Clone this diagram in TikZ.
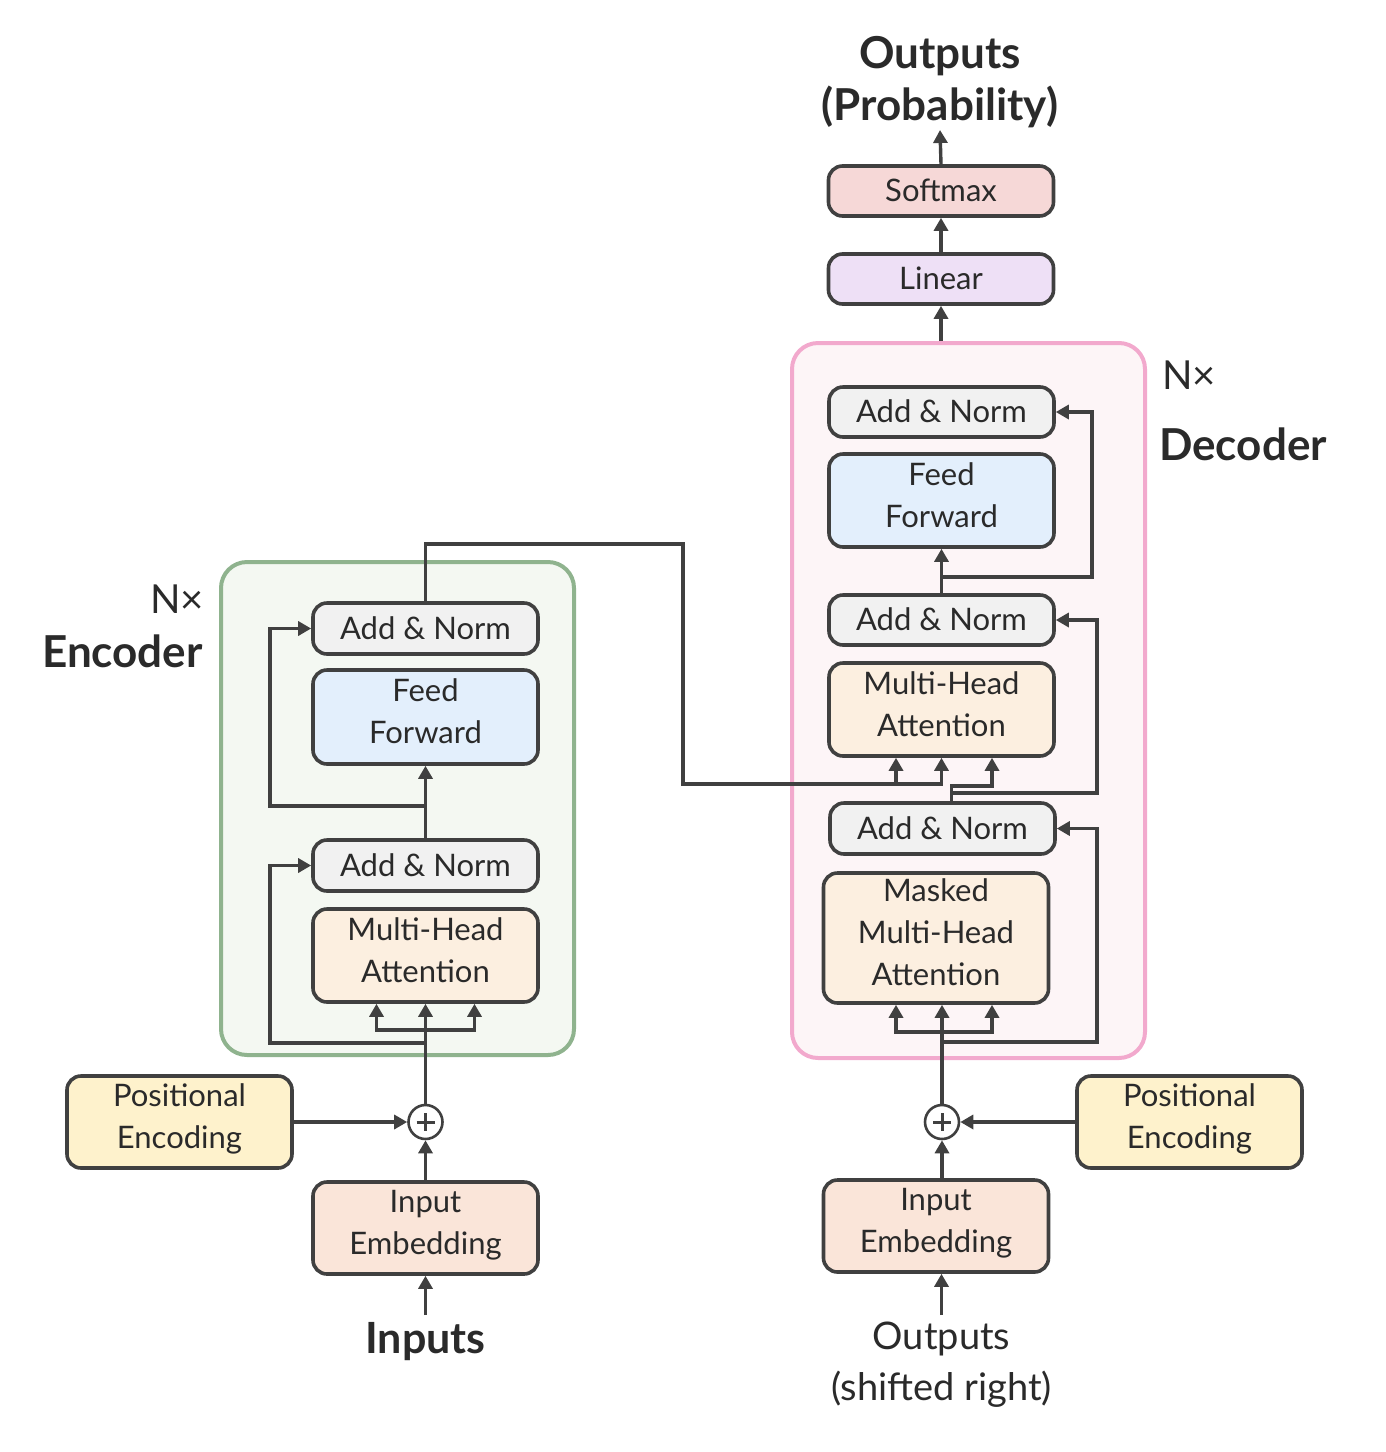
\documentclass[tikz,border=0pt]{standalone}
\usepackage{fontspec}
\setmainfont{Lato}
\usetikzlibrary{arrows.meta}

\definecolor{ink}{HTML}{404040}
\definecolor{txt}{HTML}{2A2A2A}
\definecolor{normfill}{HTML}{F1F1F1}
\definecolor{fffill}{HTML}{E3EFFC}
\definecolor{attfill}{HTML}{FCEFE0}
\definecolor{embfill}{HTML}{FAE5D9}
\definecolor{posfill}{HTML}{FEF2CC}
\definecolor{linfill}{HTML}{EEE0F6}
\definecolor{softfill}{HTML}{F6D8D7}
\definecolor{encline}{HTML}{8FB38E}
\definecolor{encfill}{HTML}{F4F8F2}
\definecolor{decline}{HTML}{F2A9CD}
\definecolor{decfill}{HTML}{FDF5F7}

% line strut: keeps every text line the same height inside the blocks
\newcommand{\linestrut}{\rule[-11pt]{0pt}{43pt}}

\begin{document}
\begin{tikzpicture}[x=1pt,y=-1pt,
  blk/.style={draw=ink, line width=3.6pt, rounded corners=14pt,
    minimum width=225pt, inner sep=0pt, align=center, text=txt,
    font=\fontsize{31}{42}\selectfont,
    execute at begin node=\linestrut, execute at end node=\linestrut},
  layer/.style={line width=4pt, rounded corners=26pt, inner sep=0pt},
  arr/.style={draw=ink, line width=3.4pt, -{Triangle[length=13pt,width=14pt]}},
  addop/.style={circle, draw=ink, line width=2.6pt, fill=white,
    minimum size=34pt, inner sep=0pt},
  lbl/.style={text=txt, inner sep=0pt},
]
\useasboundingbox (0,0) rectangle (1386,1452);

% encoder and decoder stacks
\node[layer, draw=encline, fill=encfill, minimum width=353pt, minimum height=493pt] (enc) at (397.5,808.5) {};
\node[layer, draw=decline, fill=decfill, minimum width=353pt, minimum height=715pt] (dec) at (968.5,700.5) {};

% encoder blocks
\node[blk, fill=normfill, minimum height=51pt] (ean2) at (425.5,628.5) {Add \& Norm};
\node[blk, fill=fffill,   minimum height=94pt] (eff)  at (425.5,717) {Feed\\Forward};
\node[blk, fill=normfill, minimum height=51pt] (ean1) at (425.5,865.5) {Add \& Norm};
\node[blk, fill=attfill,  minimum height=93pt] (emha) at (425.5,955.5) {Multi-Head\\Attention};
\node[blk, fill=embfill,  minimum height=92pt] (eemb) at (425.5,1228) {Input\\Embedding};
\node[blk, fill=posfill,  minimum height=92pt] (epos) at (179.5,1122) {Positional\\Encoding};
\node[addop] (eplus) at (425.5,1122) {};
\draw[ink, line width=3pt] (eplus.center) ++(-9,0) -- ++(18,0)
      (eplus.center) ++(0,-9) -- ++(0,18);

% decoder blocks
\node[blk, fill=normfill, minimum height=50pt] (dan3) at (941.5,412) {Add \& Norm};
\node[blk, fill=fffill,   minimum height=93pt] (dff)  at (941.5,500.5) {Feed\\Forward};
\node[blk, fill=normfill, minimum height=50pt] (dan2) at (941.5,620) {Add \& Norm};
\node[blk, fill=attfill,  minimum height=93pt] (dmha) at (941.5,709.5) {Multi-Head\\Attention};
\node[blk, fill=normfill, minimum height=51pt] (dan1) at (942.5,828.5) {Add \& Norm};
\node[blk, fill=attfill,  minimum height=130pt] (dmmha) at (936,938) {Masked\\Multi-Head\\Attention};
\node[blk, fill=embfill,  minimum height=92pt] (demb) at (936,1226) {Input\\Embedding};
\node[blk, fill=posfill,  minimum height=92pt] (dpos) at (1189.5,1122) {Positional\\Encoding};
\node[addop] (dplus) at (942,1122) {};
\draw[ink, line width=3pt] (dplus.center) ++(-9,0) -- ++(18,0)
      (dplus.center) ++(0,-9) -- ++(0,18);
\node[blk, fill=linfill,  minimum height=50pt] (dlin)  at (941,279) {Linear};
\node[blk, fill=softfill, minimum height=50pt] (dsoft) at (941,191) {Softmax};

% labels
\node[lbl, anchor=south, outer sep=2pt, align=center,
      font=\fontsize{44}{52}\selectfont\bfseries] (outp) at (940,130) {Outputs\\(Probability)};
\node[lbl, anchor=north, outer sep=7pt, font=\fontsize{43}{52}\selectfont\bfseries] (einp) at (425.5,1315) {Inputs};
\node[lbl, anchor=north, outer sep=7pt, align=center,
      font=\fontsize{38}{51}\selectfont] (dinp) at (941.5,1315) {Outputs\\(shifted right)};
\node[lbl, anchor=base west, font=\fontsize{40}{40}\selectfont] (dn) at (1162,389) {N×};
\node[lbl, anchor=base west, font=\fontsize{44}{44}\selectfont\bfseries] (dname) at (1159,460) {Decoder};
\node[lbl, anchor=base east, font=\fontsize{40}{40}\selectfont] (en) at (204,613) {N×};
\node[lbl, anchor=base east, font=\fontsize{44}{44}\selectfont\bfseries] (ename) at (203,667) {Encoder};

% encoder connectors
\draw[arr] (einp.north) -- (eemb.south);
\draw[arr] (eemb.north) -- (eplus.south);
\draw[arr] (epos.east) -- (eplus.west);
\draw[arr] (eplus.north) -- (emha.south);
\coordinate (efork) at (425.5,1030);
\draw[arr] (efork) -| ([xshift=-49pt]emha.south);
\draw[arr] (efork) -| ([xshift=49pt]emha.south);
\coordinate (eres1) at (425.5,1043);
\draw[arr] (eres1) -- (270,1043) |- (ean1.west);
\draw[arr] (ean1.north) -- (eff.south);
\coordinate (eres2) at (425.5,806);
\draw[arr] (eres2) -- (270,806) |- (ean2.west);

% encoder output into decoder attention
\draw[arr] (ean2.north) -- (425.5,544) -- (683,544) -- (683,784) -| (dmha.south);
\coordinate (dkv) at (896,784);
\draw[arr] (dkv) -- (dkv |- dmha.south);

% decoder connectors
\draw[arr] (dinp.north) -- (dinp.north |- demb.south);
\draw[arr] (dplus |- demb.north) -- (dplus.south);
\draw[arr] (dpos.west) -- (dplus.east);
\draw[arr] (dplus.north) -- (dplus |- dmmha.south);
\coordinate (dfork) at (942,1032);
\draw[arr] (dfork) -| ([xshift=-40pt]dmmha.south);
\draw[arr] (dfork) -| ([xshift=56pt]dmmha.south);
\coordinate (dres1) at (942,1042);
\draw[arr] (dres1) -- (1097,1042) |- (dan1.east);
\draw[arr] ([xshift=9pt]dan1.north) -- (951.5,786) -| ([xshift=50.5pt]dmha.south);
\coordinate (dres2) at (951.5,793);
\draw[arr] (dres2) -- (1097,793) |- (dan2.east);
\draw[arr] (dan2.north) -- (dff.south);
\coordinate (dres3) at (941.5,577);
\draw[arr] (dres3) -- (1092,577) |- (dan3.east);
\draw[arr] (dec.north -| dlin) -- (dlin.south);
\draw[arr] (dlin.north) -- (dsoft.south);
\draw[arr] (dsoft.north) -- (outp.south);
\end{tikzpicture}
\end{document}
